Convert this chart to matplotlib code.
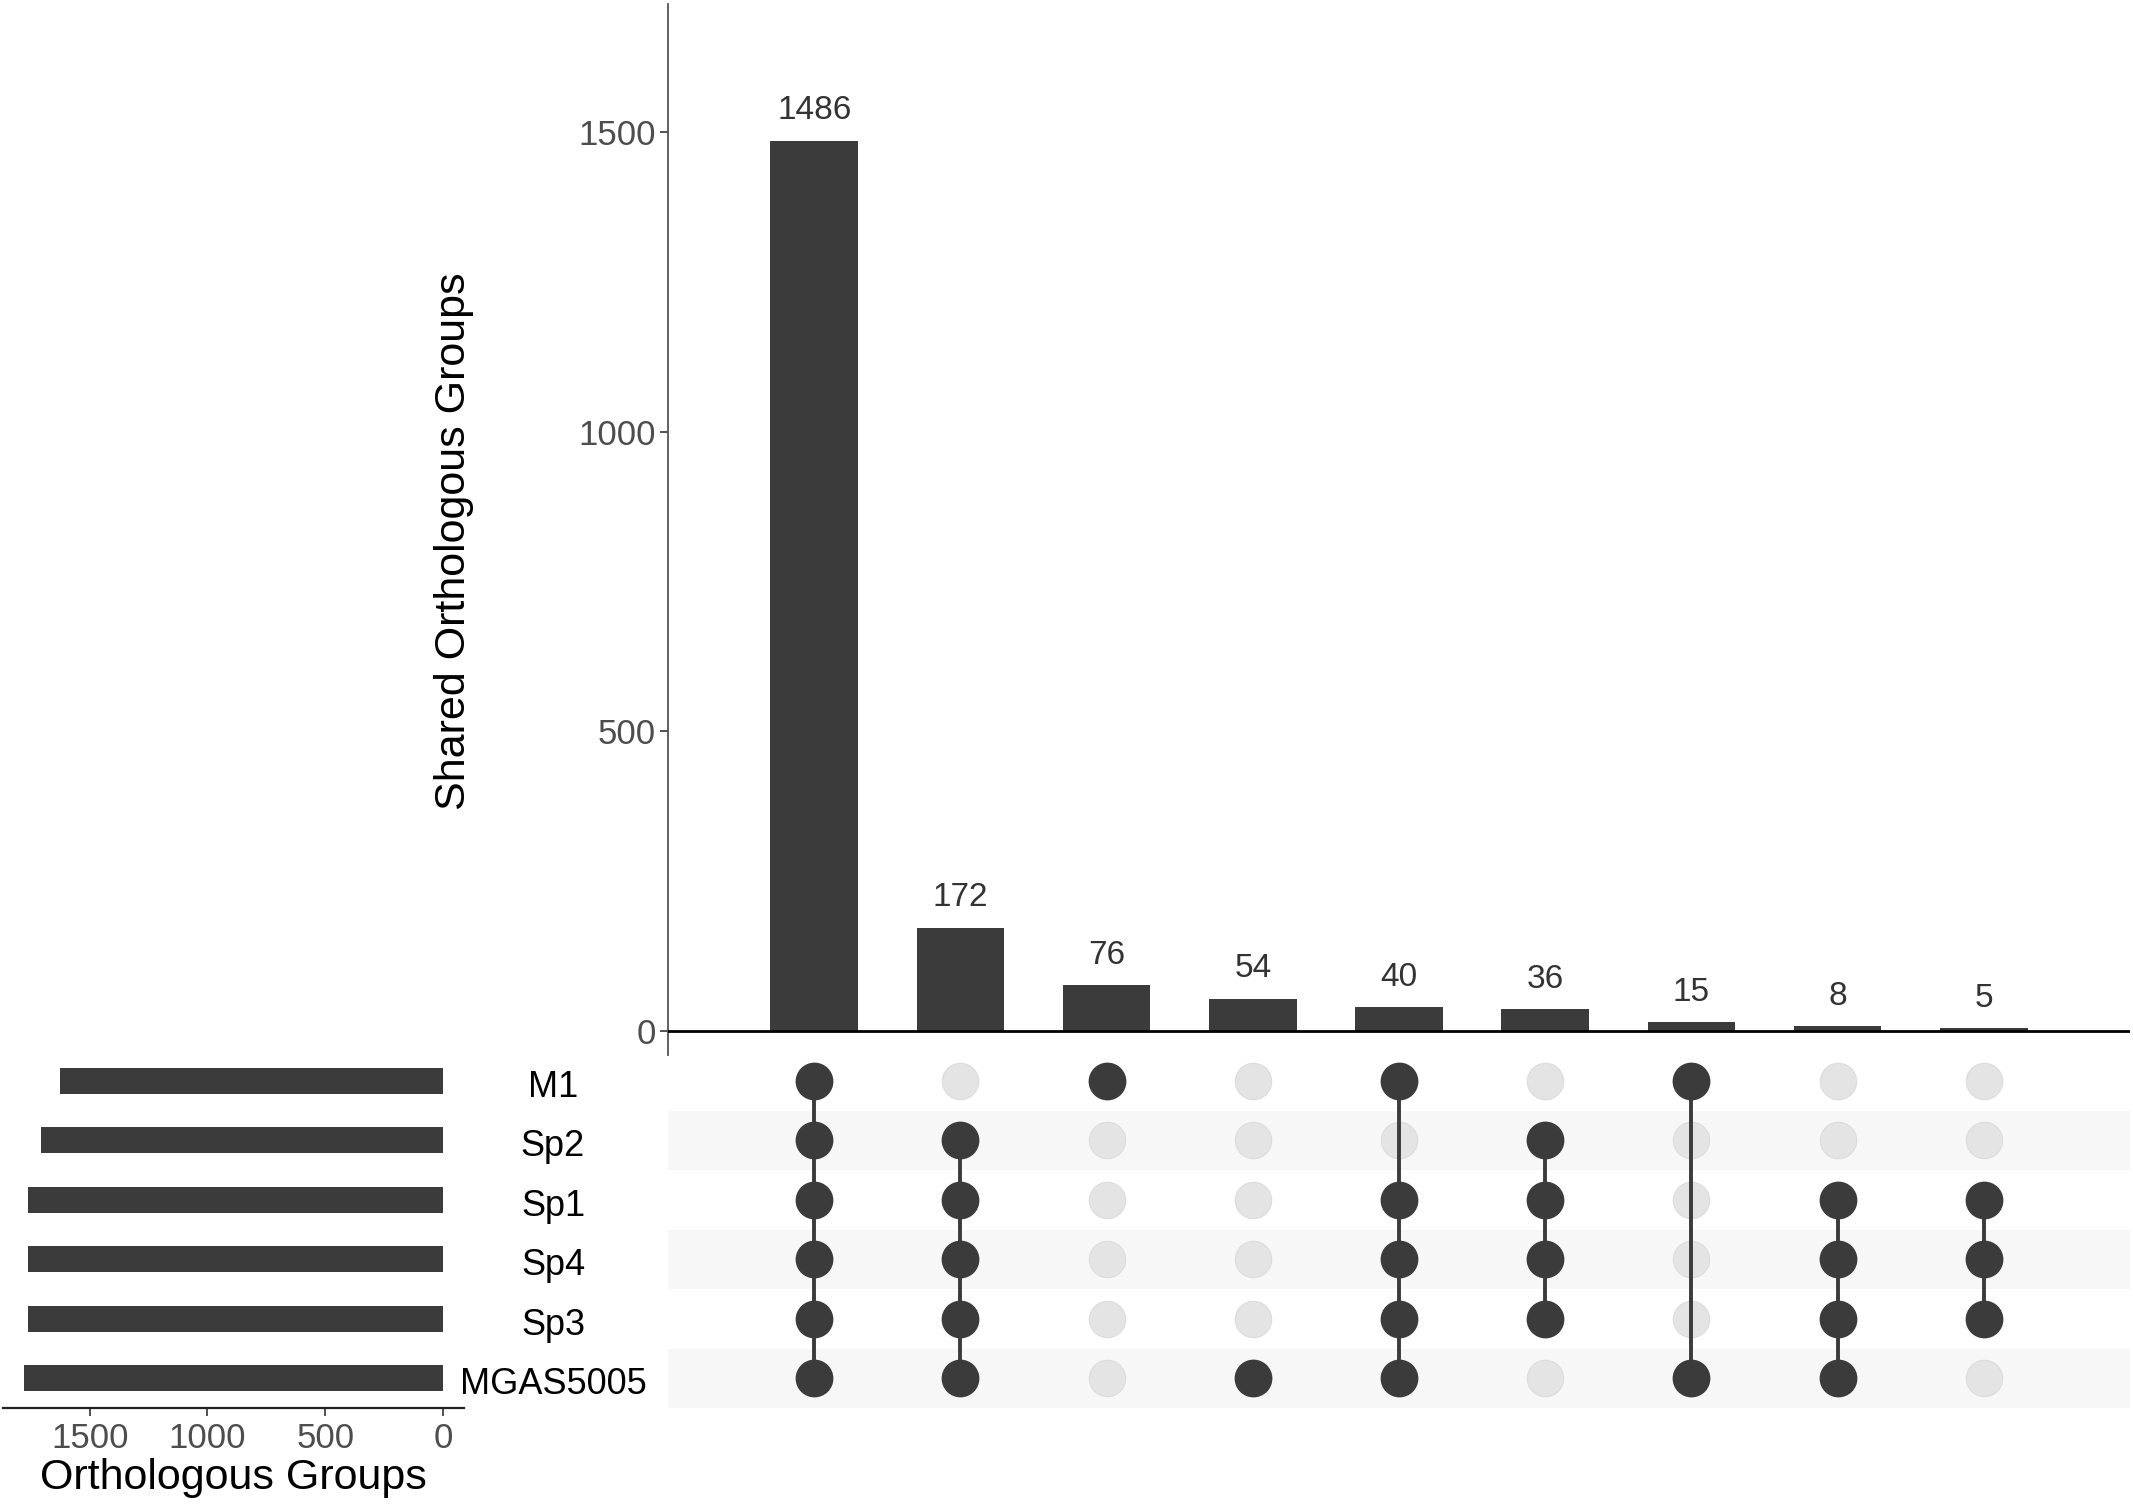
import matplotlib
matplotlib.use("Agg")
import matplotlib.pyplot as plt
import matplotlib.transforms as mtransforms
import numpy as np

plt.rcParams['font.family'] = ['Liberation Sans', 'DejaVu Sans']

# ---------------- data ----------------
sets = ["M1", "Sp2", "Sp1", "Sp4", "Sp3", "MGAS5005"]
set_sizes = [1625, 1708, 1762, 1762, 1763, 1780]

intersection_counts = [1486, 172, 76, 54, 40, 36, 15, 8, 5]
intersection_members = [
    ["M1", "Sp2", "Sp1", "Sp4", "Sp3", "MGAS5005"],
    ["Sp2", "Sp1", "Sp4", "Sp3", "MGAS5005"],
    ["M1"],
    ["MGAS5005"],
    ["M1", "Sp1", "Sp4", "Sp3", "MGAS5005"],
    ["Sp2", "Sp1", "Sp4", "Sp3"],
    ["M1", "MGAS5005"],
    ["Sp1", "Sp4", "Sp3", "MGAS5005"],
    ["Sp1", "Sp4", "Sp3"],
]
bar_ticks = [0, 500, 1000, 1500]
size_ticks = [0, 500, 1000, 1500]

# ---------------- style ----------------
W, H = 2133, 1504
DPI = 100
dark = "#3b3b3b"
light_dot = "#e4e4e4"
stripe = "#f7f7f7"
tick_col = "#4d4d4d"

fig = plt.figure(figsize=(W / DPI, H / DPI), dpi=DPI)
fig.patch.set_facecolor("white")


def px_axes(x0, y0, x1, y1):
    return fig.add_axes([x0 / W, 1 - y1 / H, (x1 - x0) / W, (y1 - y0) / H])


# ---------------- top bar chart ----------------
ax_bar = px_axes(668, 4, 2130, 1055)
xpos = np.arange(1, len(intersection_counts) + 1)
ax_bar.bar(xpos, intersection_counts, width=0.6, color=dark, zorder=2)
ax_bar.axhline(0, color="black", lw=2.0, zorder=3)
ax_bar.set_xlim(0, len(intersection_counts) + 1)
ax_bar.set_ylim(-40, 1714)
for s in ["top", "right", "bottom"]:
    ax_bar.spines[s].set_visible(False)
ax_bar.spines["left"].set_color("#555555")
ax_bar.spines["left"].set_linewidth(1.3)
ax_bar.set_xticks([])
ax_bar.set_yticks(bar_ticks)
ax_bar.tick_params(axis="y", length=6, width=1.2, color="#333333",
                   labelsize=25, labelcolor=tick_col, pad=3)
for x, v in zip(xpos, intersection_counts):
    ax_bar.annotate(str(v), (x, v), xytext=(0, 15.5), textcoords="offset points",
                    ha="center", va="baseline", fontsize=24, color="#333333")
ax_bar.set_ylabel("Shared Orthologous Groups", fontsize=31, color="black")
ax_bar.yaxis.set_label_coords((474 - 668) / (2130 - 668), (1055 - 541) / (1055 - 4))

# ---------------- matrix ----------------
ax_m = px_axes(668, 1051, 2130, 1408)
ax_m.patch.set_visible(False)
nrows = len(sets)
ax_m.set_xlim(0, len(intersection_counts) + 1)
ax_m.set_ylim(nrows - 0.5, -0.5)
for i in range(nrows):
    if i % 2 == 1:
        ax_m.axhspan(i - 0.5, i + 0.5, color=stripe, lw=0, zorder=0)
ms = 26.2
for j, members in enumerate(intersection_members):
    x = xpos[j]
    rows_in = [sets.index(m) for m in members]
    rows_out = [i for i in range(nrows) if i not in rows_in]
    ax_m.plot([x] * len(rows_out), rows_out, "o", ms=ms, color=light_dot,
              mec="#dcdcdc", mew=0.8, ls="none", zorder=1)
    if len(rows_in) > 1:
        ax_m.plot([x, x], [min(rows_in), max(rows_in)], color=dark, lw=2.8, zorder=2)
    ax_m.plot([x] * len(rows_in), rows_in, "o", ms=ms, color=dark, ls="none", zorder=3)
ax_m.axis("off")

# set names (centered)
trans = mtransforms.blended_transform_factory(fig.transFigure, ax_m.transData)
offset = mtransforms.ScaledTranslation(0, -2.5 / DPI, fig.dpi_scale_trans)
for i, name in enumerate(sets):
    fig.text(553 / W, i, name, transform=trans + offset, ha="center",
             va="center_baseline", fontsize=26, color="black")

# ---------------- set size bars ----------------
ax_s = px_axes(2.7, 1051, 464, 1408)
ypos = np.arange(nrows)
ax_s.barh(ypos, set_sizes, height=0.43, color=dark, zorder=2)
mx = max(set_sizes)
ax_s.set_xlim(mx * 1.05, -mx * 0.05)
ax_s.set_ylim(nrows - 0.5, -0.5)
for s in ["top", "right", "left"]:
    ax_s.spines[s].set_visible(False)
ax_s.spines["bottom"].set_color("#222222")
ax_s.spines["bottom"].set_linewidth(1.6)
ax_s.set_yticks([])
ax_s.set_xticks(size_ticks)
ax_s.tick_params(axis="x", length=6, width=1.2, color="#333333",
                 labelsize=25, labelcolor=tick_col, pad=4)
ax_s.set_xlabel("Orthologous Groups", fontsize=31, color="black", labelpad=2)

fig.savefig("out.png", dpi=DPI, facecolor="white")
